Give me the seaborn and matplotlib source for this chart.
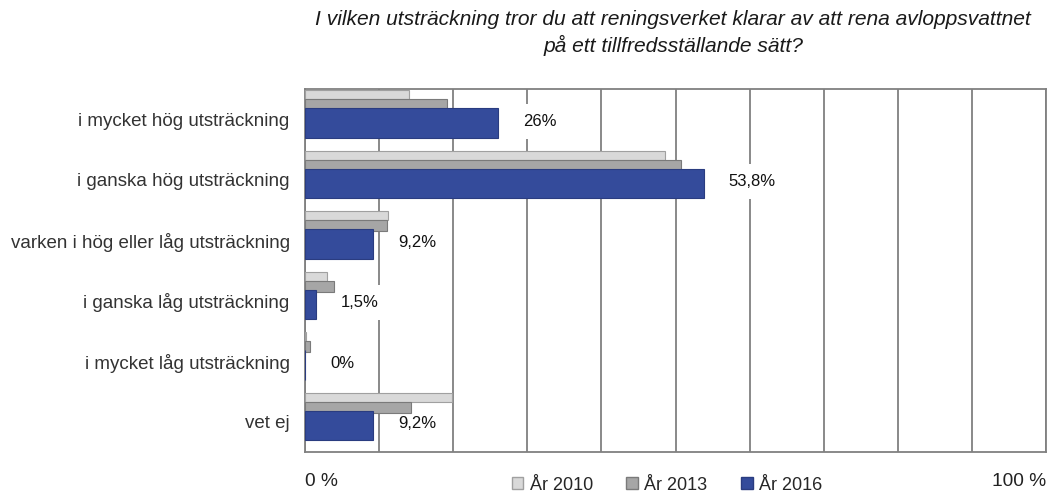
import matplotlib
matplotlib.use("Agg")
import matplotlib.pyplot as plt
import matplotlib.patches as mpatches
import numpy as np
import seaborn as sns

# Data
categories = ["i mycket hög utsträckning", "i ganska hög utsträckning",
              "varken i hög eller låg utsträckning", "i ganska låg utsträckning",
              "i mycket låg utsträckning", "vet ej"]
years = ["År 2010", "År 2013", "År 2016"]
vals_2010 = [14.0, 48.6, 11.2, 3.0, 0.2, 19.8]
vals_2013 = [19.2, 50.7, 11.0, 3.9, 0.7, 14.3]
vals_2016 = [26.0, 53.8, 9.2, 1.5, 0.0, 9.2]
labels_2016 = ["26%", "53,8%", "9,2%", "1,5%", "0%", "9,2%"]

sns.set_theme(style="white")
plt.rcParams["font.family"] = ["Liberation Sans", "DejaVu Sans"]

fig = plt.figure(figsize=(10.52, 4.92), dpi=100)
ax = fig.add_axes([305 / 1052, 40 / 492, 741 / 1052, 363 / 492])

rows = np.arange(len(categories))
grid_col = "#808080"
colors = ["#d9d9d9", "#a6a6a6", "#344b9b"]
edges = ["#a0a0a0", "#7a7a7a", "#2a3c80"]
offsets = [-0.405, -0.24, 0.062]
widths = [0.15, 0.18, 0.48]

for i, vals in enumerate([vals_2010, vals_2013, vals_2016]):
    sns.barplot(x=vals, y=rows + offsets[i], orient="h", native_scale=True,
                width=widths[i], color=colors[i], edgecolor=edges[i],
                linewidth=0.8, saturation=1, errorbar=None, ax=ax, zorder=3 + i)

# value labels for 2016 (white box hides the grid, stays under the bars)
for r, v, lab in zip(rows, vals_2016, labels_2016):
    ax.annotate(lab, (v, r + offsets[2]), xytext=(25, 2), textcoords="offset pixels",
                ha="left", va="center", fontsize=12, color="#111111", zorder=2,
                bbox=dict(boxstyle="square,pad=0.6", fc="white", ec="none"))

ax.set_xlim(0, 100)
ax.set_ylim(5.5, -0.5)
ax.set_xticks(np.arange(0, 101, 10))
ax.xaxis.grid(True, color=grid_col, linewidth=1.3, zorder=0)
ax.set_axisbelow(True)
ax.tick_params(axis="x", length=0, labelbottom=False)
ax.set_yticks(rows)
ax.set_yticklabels(categories, fontsize=13.5, color="#333333")
ax.tick_params(axis="y", length=0, pad=11)
ax.set_xlabel("")
ax.set_ylabel("")
for s in ax.spines.values():
    s.set_color(grid_col)
    s.set_linewidth(1.3)

fig.text(305 / 1052, 1 - 482 / 492, "0 %", ha="left", va="center", fontsize=13.8, color="#222222")
fig.text(1046 / 1052, 1 - 482 / 492, "100 %", ha="right", va="center", fontsize=13.8, color="#222222")

fig.text(673 / 1052, 1 - 33 / 492,
         "I vilken utsträckning tror du att reningsverket klarar av att rena avloppsvattnet\n"
         "på ett tillfredsställande sätt?",
         ha="center", va="center", fontsize=15.1, style="italic", color="#1a1a1a",
         linespacing=1.3)

handles = [mpatches.Patch(facecolor=colors[i], edgecolor=edges[i], label=years[i])
           for i in range(3)]
fig.legend(handles=handles, loc="center", bbox_to_anchor=(667 / 1052, 1 - 485 / 492),
           ncol=3, frameon=False, fontsize=13, handlelength=0.65, handleheight=0.65,
           handletextpad=0.35, columnspacing=1.85)

fig.savefig("out.png", dpi=100)
